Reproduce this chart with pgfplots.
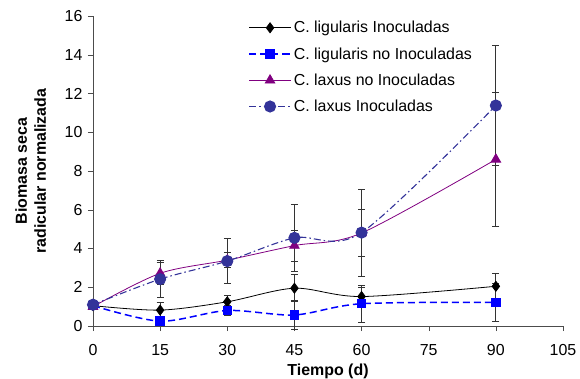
\documentclass[border=0pt]{standalone}
\usepackage{fontspec}
\setmainfont{Liberation Sans}
\usepackage{pgfplots}
\pgfplotsset{compat=1.18}
\definecolor{navyc}{RGB}{51,51,153}
\definecolor{purp}{RGB}{128,0,128}
\begin{document}
\begin{tikzpicture}[x=1bp,y=1bp]
\begin{axis}[
  name=ax,
  scale only axis, width=470bp, height=310bp,
  xmin=0, xmax=105, ymin=0, ymax=16,
  xtick={0,15,30,45,60,75,90,105},
  ytick={0,2,4,6,8,10,12,14,16},
  axis lines=left, axis line style={-, black!70},
  tick style={black!70}, tick align=outside,
  major tick length=5bp,
  clip=false,
  /pgf/number format/assume math mode=true,
  tick label style={font=\fontsize{16}{19}\selectfont},
  yticklabel style={xshift=-2bp},
  xticklabel style={yshift=-10bp},
  xlabel={Tiempo (d)},
  ylabel={Biomasa seca\\radicular normalizada},
  xlabel style={font=\fontsize{16}{19}\selectfont\bfseries, yshift=-1bp},
  ylabel style={font=\fontsize{16}{19}\selectfont\bfseries, align=center, yshift=12bp},
  legend style={draw=none, fill=none, at={(0.33,0.99)}, anchor=north west,
    font=\fontsize{16}{19}\selectfont, row sep=9.2bp, inner sep=0pt},
  legend cell align=left,
  legend image code/.code={\draw[mark repeat=2,mark phase=2,#1] plot coordinates {(0bp,0bp)(21bp,0bp)(42bp,0bp)};},
  error bars/error bar style={black!80, line width=0.8pt, solid},
  error bars/error mark options={rotate=90, mark size=3.5bp, black!80, line width=0.8pt, solid},
]
\addplot[black, line width=0.8pt, smooth, tension=0.5, mark=diamond*, mark size=5bp, mark options={solid, fill=black},
  error bars/.cd, y dir=both, y explicit] coordinates {
  (0,1.05) +- (0,0.1)
  (15,0.82) +- (0,0.38)
  (30,1.25) +- (0,0.35)
  (45,1.95) +- (0,0.7)
  (60,1.52) +- (0,0.45)
  (90,2.05) +- (0,0.68)
};
\addlegendentry{C. ligularis Inoculadas}
\addplot[blue, line width=1.5pt, dash pattern=on 7bp off 4bp, smooth, tension=0.5, mark=square*, mark size=4bp, mark options={solid, fill=blue},
  error bars/.cd, y dir=both, y explicit] coordinates {
  (0,1.05) +- (0,0.1)
  (15,0.25) +- (0,0.2)
  (30,0.8) +- (0,0.25)
  (45,0.57) +- (0,0.75)
  (60,1.15) +- (0,0.95)
  (90,1.22) +- (0,1.0)
};
\addlegendentry{C. ligularis no Inoculadas}
\addplot[purp, line width=0.8pt, smooth, tension=0.5, mark=triangle*, mark size=5.5bp, mark options={solid, fill=purp},
  error bars/.cd, y dir=both, y explicit] coordinates {
  (0,1.0) +- (0,0.1)
  (15,2.72) +- (0,0.55)
  (30,3.4) +- (0,0.4)
  (45,4.15) +- (0,0.8)
  (60,4.8) +- (0,1.2)
  (90,8.6) +- (0,3.45)
};
\addlegendentry{C. laxus no Inoculadas}
\addplot[navyc, line width=1.1pt, dash pattern=on 7bp off 3bp on 1.5bp off 3bp, smooth, tension=0.5, mark=*, mark size=5.5bp, mark options={solid, fill=navyc},
  error bars/.cd, y dir=both, y explicit] coordinates {
  (0,1.1) +- (0,0.1)
  (15,2.42) +- (0,0.95)
  (30,3.35) +- (0,1.15)
  (45,4.55) +- (0,1.75)
  (60,4.82) +- (0,2.25)
  (90,11.38) +- (0,3.1)
};
\addlegendentry{C. laxus Inoculadas}
\end{axis}
\pgfresetboundingbox
\path ([xshift=-93bp,yshift=-53bp]ax.south west) rectangle ([xshift=17bp,yshift=16bp]ax.north east);
\end{tikzpicture}
\end{document}
